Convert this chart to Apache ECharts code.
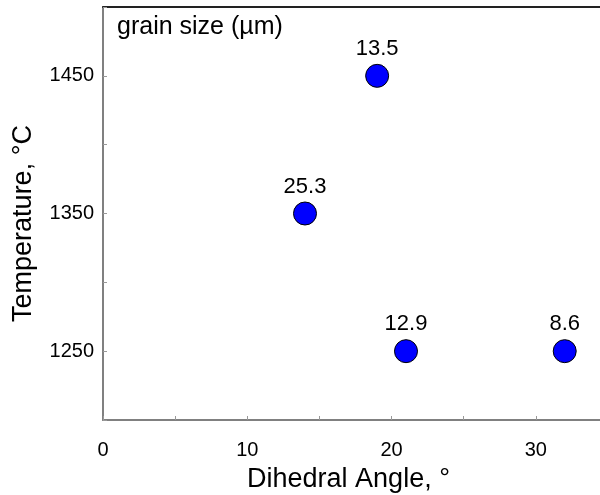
<!DOCTYPE html>
<html>
<head>
<meta charset="utf-8">
<script src="https://cdn.jsdelivr.net/npm/echarts@6/dist/echarts.min.js"></script>
<style>
  html, body { margin: 0; padding: 0; background: #fff; }
  #chart { width: 600px; height: 495px; }
</style>
</head>
<body>
<div id="chart"></div>
<script>
// 数据：二面角、温度、晶粒尺寸
const angles = [19, 14, 21, 32];
const temps = [1450, 1350, 1250, 1250];
const grainSizes = [13.5, 25.3, 12.9, 8.6];
// 只显示这些刻度文字
const xTickLabels = [0, 10, 20, 30];
const yTickLabels = [1250, 1350, 1450];

const font = "'Liberation Sans', Arial, Helvetica, sans-serif";
const grey = "#808080";

let points = angles.map(function (a, i) {
    return [a, temps[i], grainSizes[i]];
});

var chart = echarts.init(document.getElementById("chart"));

let option = {
    animation: false,
    textStyle: { fontFamily: font },
    title: {
        text: "grain size (µm)",
        left: 112,
        top: 10,
        textStyle: { fontSize: 25, fontWeight: "normal", color: "#000", fontFamily: font }
    },
    // 右侧超出画布
    grid: { left: 103, width: 505, top: 7, height: 413, outerBoundsMode: "none" },
    xAxis: [{
        type: "value",
        min: 0,
        max: 35,
        interval: 5,
        name: "Dihedral Angle, °",
        nameLocation: "middle",
        nameGap: 46,
        nameTextStyle: { fontSize: 27, color: "#000", fontFamily: font, padding: [0, 14, 0, 0] },
        splitLine: { show: false },
        axisLine: { lineStyle: { color: grey, width: 2 } },
        axisTick: { inside: true, length: 4, lineStyle: { color: "#999" } },
        axisLabel: {
            fontSize: 20, color: "#000", margin: 20, fontFamily: font,
            formatter: function (v) { return xTickLabels.indexOf(v) >= 0 ? String(v) : ""; }
        }
    }, {
        type: "value",
        position: "top",
        min: 0,
        max: 35,
        axisLine: { show: true, lineStyle: { color: "#222", width: 2 } },
        axisTick: { show: false },
        axisLabel: { show: false },
        splitLine: { show: false }
    }],
    yAxis: {
        type: "value",
        min: 1200,
        max: 1500,
        interval: 50,
        name: "Temperature, °C",
        nameLocation: "middle",
        nameGap: 66,
        nameTextStyle: { fontSize: 27, color: "#000", fontFamily: font, padding: [0, 20, 0, 0] },
        splitLine: { show: false },
        axisLine: { show: true, lineStyle: { color: grey, width: 2 } },
        axisTick: { inside: true, length: 4, lineStyle: { color: "#999" } },
        axisLabel: {
            fontSize: 20, color: "#000", margin: 9, fontFamily: font,
            formatter: function (v) { return yTickLabels.indexOf(v) >= 0 ? String(v) : ""; }
        }
    },
    series: [{
        type: "scatter",
        data: points,
        symbolSize: 23,
        itemStyle: { color: "#0000ff", borderColor: "#000", borderWidth: 1, opacity: 1 },
        label: {
            show: true,
            position: "top",
            distance: 4,
            fontSize: 22,
            color: "#000",
            fontFamily: font,
            formatter: function ({ data }) { return String(data[2]); }
        }
    }]
};

chart.setOption(option);
</script>
</body>
</html>
